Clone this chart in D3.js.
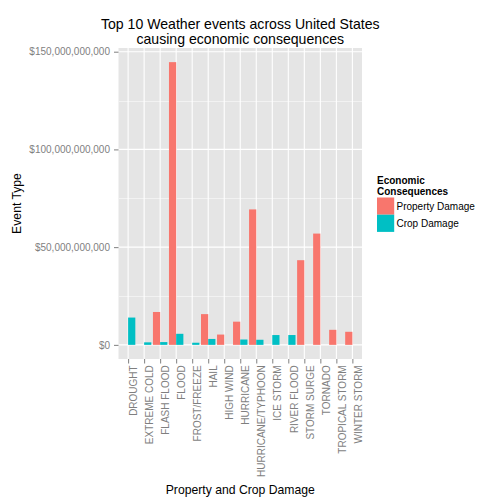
<!DOCTYPE html>
<html>
<head>
<meta charset="utf-8">
<script src="https://cdn.jsdelivr.net/npm/d3@7"></script>
<style>
  html, body { margin: 0; padding: 0; background: #fff; }
  text { font-family: "Liberation Sans", Arial, sans-serif; }
</style>
</head>
<body>
<svg id="chart" width="504" height="504"></svg>
<script>
const categories = ["DROUGHT", "EXTREME COLD", "FLASH FLOOD", "FLOOD", "FROST/FREEZE", "HAIL", "HIGH WIND", "HURRICANE", "HURRICANE/TYPHOON", "ICE STORM", "RIVER FLOOD", "STORM SURGE", "TORNADO", "TROPICAL STORM", "WINTER STORM"];
const propertyDamage = [null, null, 16.82e9, 144.66e9, null, 15.73e9, 5.27e9, 11.87e9, 69.31e9, null, null, 43.32e9, 56.94e9, 7.70e9, 6.69e9];
const cropDamage = [13.97e9, 1.29e9, 1.42e9, 5.66e9, 1.09e9, 3.03e9, null, 2.74e9, 2.61e9, 5.02e9, 5.03e9, null, null, null, null];
const seriesNames = ["Property Damage", "Crop Damage"];
const seriesColors = ["#F8766D", "#00BFC4"];
const yTicks = [0, 50e9, 100e9, 150e9];
const yMinorTicks = [25e9, 75e9, 125e9];

const svg = d3.select("#chart");
const panel = { left: 118.5, right: 362, top: 48, bottom: 359 };

const maxVal = d3.max(propertyDamage.concat(cropDamage).filter(v => v != null));
const pad = maxVal * 0.05;
const y = d3.scaleLinear().domain([-pad, maxVal + pad]).range([panel.bottom, panel.top]);
const x = d3.scalePoint().domain(categories).range([panel.left, panel.right]).padding(0.6);
const step = x.step();
const barW = step * 0.45;

// panel background
svg.append("rect").attr("x", panel.left).attr("y", panel.top)
  .attr("width", panel.right - panel.left).attr("height", panel.bottom - panel.top)
  .attr("fill", "#E5E5E5");

// minor grid
svg.append("g").selectAll("line").data(yMinorTicks).join("line")
  .attr("x1", panel.left).attr("x2", panel.right)
  .attr("y1", d => Math.round(y(d)) + 0.5).attr("y2", d => Math.round(y(d)) + 0.5)
  .attr("stroke", "#F2F2F2").attr("stroke-width", 1);
// major grid
svg.append("g").selectAll("line").data(yTicks).join("line")
  .attr("x1", panel.left).attr("x2", panel.right)
  .attr("y1", d => y(d)).attr("y2", d => y(d))
  .attr("stroke", "#FFFFFF").attr("stroke-width", 1.1);
svg.append("g").selectAll("line").data(categories).join("line")
  .attr("x1", d => x(d)).attr("x2", d => x(d))
  .attr("y1", panel.top).attr("y2", panel.bottom)
  .attr("stroke", "#FFFFFF").attr("stroke-width", 1.1);

// bars
const barData = [];
categories.forEach((c, i) => {
  if (propertyDamage[i] != null) barData.push({ c, v: propertyDamage[i], s: 0 });
  if (cropDamage[i] != null) barData.push({ c, v: cropDamage[i], s: 1 });
});
svg.append("g").selectAll("rect").data(barData).join("rect")
  .attr("x", d => d.s === 0 ? x(d.c) - barW : x(d.c))
  .attr("width", barW)
  .attr("y", d => y(d.v))
  .attr("height", d => y(0) - y(d.v))
  .attr("fill", d => seriesColors[d.s]);

// y axis
const fmt = d3.format("$,");
const yAxis = d3.axisLeft(y).tickValues(yTicks).tickFormat(fmt).tickSize(4.5).tickPadding(4);
const gy = svg.append("g").attr("transform", `translate(${panel.left},0)`).call(yAxis);
gy.select(".domain").remove();
gy.selectAll(".tick line").attr("stroke", "#7F7F7F");
gy.selectAll(".tick text").attr("fill", "#7F7F7F").style("font-size", "10px")
  .style("font-family", "'Liberation Sans', Arial, sans-serif");

// x axis
const xAxis = d3.axisBottom(x).tickSize(4.5).tickPadding(0);
const gx = svg.append("g").attr("transform", `translate(0,${panel.bottom})`).call(xAxis);
gx.select(".domain").remove();
gx.selectAll(".tick line").attr("stroke", "#7F7F7F");
gx.selectAll(".tick text")
  .attr("fill", "#7F7F7F").style("font-size", "10px")
  .style("font-family", "'Liberation Sans', Arial, sans-serif")
  .attr("text-anchor", "end")
  .attr("dy", null).attr("y", null)
  .attr("transform", "translate(8.7,6.3) rotate(-90)");

// title
const cx = (panel.left + panel.right) / 2;
const title = svg.append("text").attr("text-anchor", "middle").style("font-size", "14.1px").attr("fill", "#000");
title.append("tspan").attr("x", cx).attr("y", 29).text("Top 10 Weather events across United States");
title.append("tspan").attr("x", cx).attr("y", 44.3).text("causing economic consequences");

// axis titles
svg.append("text").attr("x", cx).attr("y", 493.6).attr("text-anchor", "middle")
  .style("font-size", "12.2px").attr("fill", "#000").text("Property and Crop Damage");
svg.append("text").attr("transform", `translate(20.5,${(panel.top + panel.bottom) / 2}) rotate(-90)`)
  .attr("text-anchor", "middle").style("font-size", "12.2px").attr("fill", "#000").text("Event Type");

// legend
const lg = svg.append("g").attr("transform", "translate(377,0)");
lg.append("text").attr("x", 0).attr("y", 184).style("font-size", "10px").style("font-weight", "bold").text("Economic");
lg.append("text").attr("x", 0).attr("y", 194.5).style("font-size", "10px").style("font-weight", "bold").text("Consequences");
const keys = lg.selectAll("g.key").data(seriesNames).join("g").attr("class", "key")
  .attr("transform", (d, i) => `translate(0,${197.5 + i * 17.2})`);
keys.append("rect").attr("width", 17.2).attr("height", 17.2).attr("fill", (d, i) => seriesColors[i]);
keys.append("text").attr("x", 19.5).attr("y", 12.8).style("font-size", "10px").attr("fill", "#000").text(d => d);
</script>
</body>
</html>
